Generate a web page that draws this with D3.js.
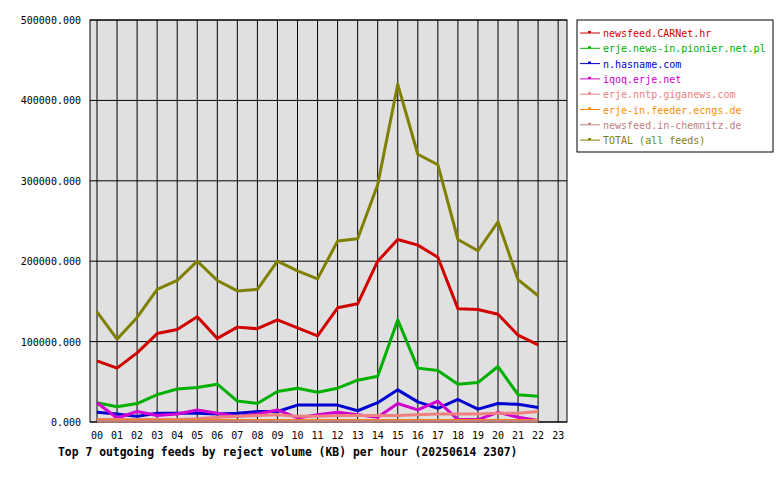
<!DOCTYPE html><html><head><meta charset="utf-8"><script src="https://cdn.jsdelivr.net/npm/d3@7"></script>
<style>body{margin:0;background:#fff}text{font-family:"DejaVu Sans Mono",monospace;font-size:10px}</style></head><body><svg id="c" width="780" height="480"></svg><script>
const hours=d3.range(24).map(i=>String(i).padStart(2,"0"));
const yTicks=[0,100000,200000,300000,400000,500000];
const names=["newsfeed.CARNet.hr","erje.news-in.pionier.net.pl","n.hasname.com","iqoq.erje.net","erje.nntp.giganews.com","erje-in.feeder.ecngs.de","newsfeed.in-chemnitz.de","TOTAL (all feeds)"];
const colors=["#d00000","#00b000","#0000d0","#d000d0","#f08080","#ff8c00","#c08080","#808000"];
const carnet=[76,67,86,110,115,131,104,118,116,127,117,107,142,147,200,227,220,205,141,140,134,108,96];
const pionier=[24,19,23,34,41,43,47,26,23,38,42,37,42,52,57,127,67,64,47,49,69,34,32];
const hasname=[12,10,7,11,11,11,10,11,13,13,21,21,21,14,24,40,25,17,28,16,23,22,18];
const iqoq=[24,5,13,8,10,15,11,7,10,15,5,9,12,9,6,23,15,26,3,3,12,6,2];
const giganews=[3,3,3,3,3,4,6,7,8,9,7,7,8,8,8,8,9,10,10,10,11,11,13];
const ecngs=[2,2,2,2,2,2,2,2,2,2,2,2,2,2,2,2,2,2,2,2,2,2,2];
const chemnitz=[1,1,1,1,1,1,1,1,1,1,1,1,1,1,1,1,1,1,1,1,1,1,1];
const total=[137,103,130,165,176,200,176,163,165,200,188,178,225,228,295,420,333,320,227,213,249,177,157];
const series=[carnet,pionier,hasname,iqoq,giganews,ecngs,chemnitz,total];
const svg=d3.select("#c");
const L=90,R=567,T=20,B=422;
const x=d3.scaleLinear().domain([0,23]).range([97,97+23*20.05]);
const y=d3.scaleLinear().domain([0,500000]).range([B,T]);
svg.append("rect").attr("x",L).attr("y",T).attr("width",R-L).attr("height",B-T).attr("fill","#e0e0e0").attr("stroke","#000");
hours.forEach((h,i)=>svg.append("line").attr("x1",x(i)).attr("x2",x(i)).attr("y1",T).attr("y2",B).attr("stroke","#000"));
yTicks.forEach(v=>{svg.append("line").attr("x1",L).attr("x2",R).attr("y1",y(v)).attr("y2",y(v)).attr("stroke","#000");
svg.append("text").attr("x",L-9).attr("y",y(v)+4).attr("text-anchor","end").text(d3.format(".3f")(v));});
hours.forEach((h,i)=>svg.append("text").attr("x",x(i)).attr("y",B+17).attr("text-anchor","middle").text(h));
svg.append("text").attr("x",58).attr("y",456).attr("font-weight","bold").style("font-size","11.4px").text("Top 7 outgoing feeds by reject volume (KB) per hour (20250614 2307)");
const line=d3.line().x((d,i)=>x(i)).y(d=>y(d*1000));
series.forEach((s,k)=>svg.append("path").attr("d",line(s)).attr("fill","none").attr("stroke",colors[k]).attr("stroke-width",3).attr("stroke-linejoin","round"));
svg.append("rect").attr("x",577).attr("y",20).attr("width",196).attr("height",132).attr("fill","#fff").attr("stroke","#000");
names.forEach((n,k)=>{const yy=33+k*15.3;
svg.append("line").attr("x1",580).attr("x2",600).attr("y1",yy).attr("y2",yy).attr("stroke",colors[k]);
svg.append("rect").attr("x",588).attr("y",yy-2).attr("width",3).attr("height",2).attr("fill",colors[k]);
svg.append("text").attr("x",603).attr("y",yy+4).attr("fill",colors[k]).text(n);});
</script></body></html>
